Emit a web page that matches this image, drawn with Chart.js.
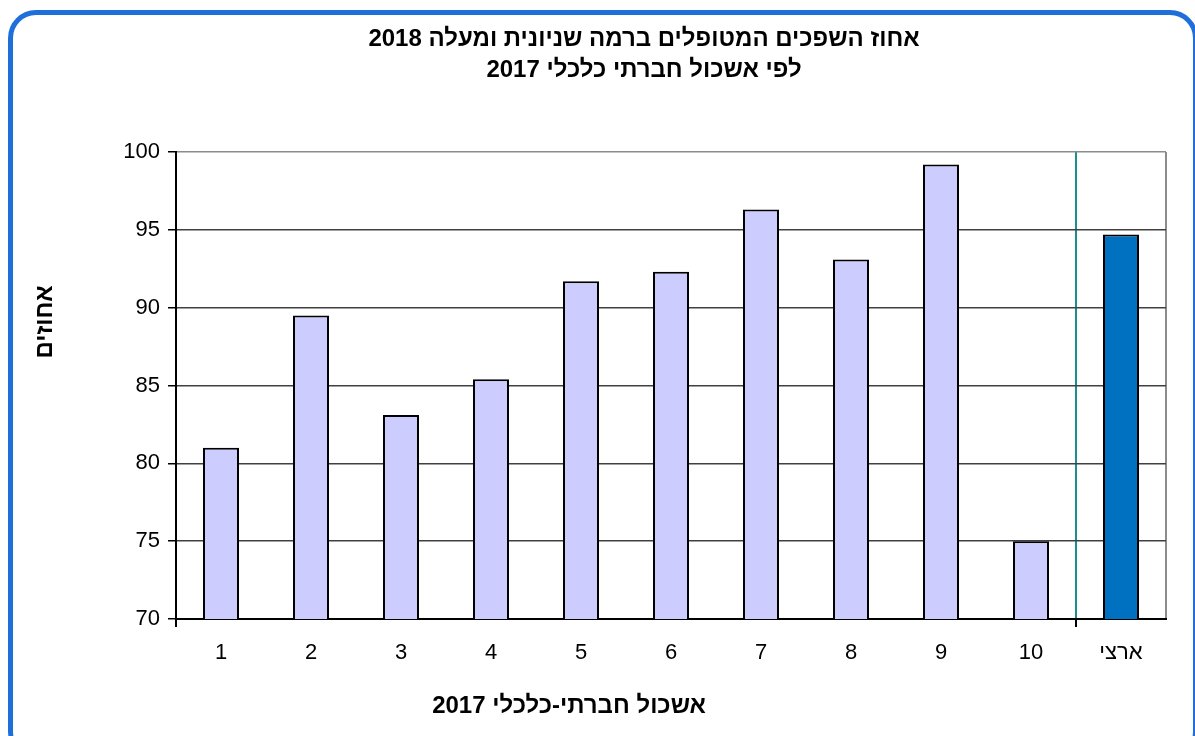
<!DOCTYPE html>
<html>
<head>
<meta charset="utf-8">
<script src="https://cdn.jsdelivr.net/npm/chart.js"></script>
<style>
  body { margin: 0; overflow: hidden; background: #fff; }
  #wrap { position: relative; width: 1195px; height: 736px; }
  #frame {
    position: absolute; left: 8px; top: 10px; width: 1180px; height: 740px;
    border: 5px solid #1e6fd9; border-radius: 28px; pointer-events: none;
  }
</style>
</head>
<body>
<div id="wrap">
  <canvas id="chartBars" width="1195" height="736"></canvas>
  <div id="frame"></div>
</div>
<script>
/* data */
const categories = ["1", "2", "3", "4", "5", "6", "7", "8", "9", "10", "ארצי"];
const values = [81.0, 89.5, 83.1, 85.4, 91.7, 92.3, 96.3, 93.1, 99.2, 75.0, 94.7];
const barColors = ["#ccccff", "#ccccff", "#ccccff", "#ccccff", "#ccccff", "#ccccff",
                   "#ccccff", "#ccccff", "#ccccff", "#ccccff", "#0070c0"];
const yMin = 70;
const yMax = 100;
const yStep = 5;
const titleLines = ["אחוז השפכים המטופלים ברמה שניונית ומעלה 2018", "לפי אשכול חברתי כלכלי 2017"];
const xTitle = "אשכול חברתי-כלכלי 2017";
const yTitle = "אחוזים";

const FONT = "'Liberation Sans', Arial, sans-serif";

// titles sit off-centre in the original, so they are drawn here by hand
const textPlugin = {
    id: "textPlugin",
    afterDraw(chart) {
        const ctx = chart.ctx;
        ctx.save();
        ctx.fillStyle = "black";
        ctx.textAlign = "center";
        ctx.textBaseline = "middle";
        ctx.direction = "rtl";
        ctx.font = "bold 24px " + FONT;
        ctx.fillText(titleLines[0], 644, 39);
        ctx.fillText(titleLines[1], 644, 70);
        ctx.fillText(xTitle, 569, 706);
        ctx.translate(45, 322);
        ctx.rotate(-Math.PI / 2);
        ctx.fillText(yTitle, 0, 0);
        ctx.restore();
    }
};

var ctxBars = document.getElementById("chartBars").getContext("2d");
var chartBars = new Chart(ctxBars, {
    type: "bar",
    data: {
        labels: categories,
        datasets: [{
            data: values,
            backgroundColor: barColors,
            borderColor: "black",
            borderWidth: 2,
            barPercentage: 0.4,
            categoryPercentage: 1.0
        }]
    },
    options: {
        responsive: false,
        animation: false,
        devicePixelRatio: 1,
        layout: {padding: {left: 116, top: 152, right: 29, bottom: 57}},
        plugins: {
            legend: {display: false},
            title: {display: false},
            tooltip: {enabled: false}
        },
        scales: {
            x: {
                afterFit: function (scale) { scale.height = 60; },
                grid: {
                    offset: true,
                    drawOnChartArea: true,
                    tickLength: 8,
                    color: function (c) {
                        if (c.index === 10) return "#1a918e";
                        if (c.index === undefined) return "#8c8c8c";
                        return "rgba(0,0,0,0)";
                    },
                    lineWidth: 2,
                    tickColor: function (c) {
                        return (c.index === 0 || c.index === 10) ? "black" : "rgba(0,0,0,0)";
                    }
                },
                border: {color: "black", width: 2},
                ticks: {
                    color: "black",
                    padding: 13,
                    font: {family: FONT, size: 22}
                }
            },
            y: {
                min: yMin,
                max: yMax,
                afterFit: function (scale) { scale.width = 60; },
                grid: {
                    color: function (c) { return c.tick && c.tick.value === yMax ? "#8c8c8c" : "#404040"; },
                    lineWidth: 1.5,
                    tickLength: 8,
                    tickColor: "black"
                },
                border: {color: "black", width: 2},
                ticks: {
                    stepSize: yStep,
                    color: "black",
                    padding: 8,
                    font: {family: FONT, size: 22}
                }
            }
        }
    },
    plugins: [textPlugin]
});
</script>
</body>
</html>
